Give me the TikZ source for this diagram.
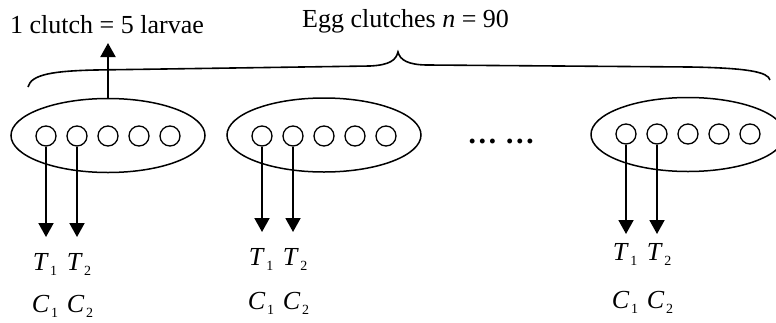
\documentclass[tikz,border=0pt]{standalone}
\usepackage{fontspec}
\setmainfont{Liberation Serif}
\usetikzlibrary{arrows.meta,shapes.geometric}
\newcommand{\lbl}[2]{\textit{#1}\kern1.5pt\raisebox{-5pt}{\fontsize{14}{14}\selectfont #2}}
\begin{document}
\begin{tikzpicture}[x=1pt,y=-1pt,
  txt/.style={font=\fontsize{26}{30}\selectfont, inner sep=0pt},
  clutch/.style={draw, ellipse, line width=1.5pt, minimum width=194pt, minimum height=74pt, inner sep=0pt},
  egg/.style={draw, circle, line width=1.3pt, minimum size=20pt, inner sep=0pt},
  arr/.style={line width=1.9pt, -{Triangle[length=14pt,width=15pt]}},
  brace/.style={line width=1.6pt}]
\clip (0,0) rectangle (776,322);
\useasboundingbox (0,0) rectangle (776,322);

% headings
\node[txt, anchor=base west] (lab) at (10,33) {1 clutch = 5 larvae};
\node[txt, anchor=base west] (tot) at (302,27) {Egg clutches \textit{n} = 90};

% the egg clutches, each with five larvae, two of them sampled
\foreach \cx/\ey/\cy/\tip/\tb/\cb/\g in {108/135.5/136/237/270/312/g1,
                                         324/135/136/232/265/309/g2,
                                         688/134.5/134/234/260/308/g3}{
  \node[clutch] (\g) at (\cx,\ey) {};
  \foreach \k/\dx in {1/-62,2/-31,3/0,4/31,5/62}
    \node[egg] (\g e\k) at (\cx+\dx,\cy) {};
  \coordinate (\g a1) at (\cx-62,\tip);
  \coordinate (\g a2) at (\cx-31,\tip);
  \draw[arr] (\g e1.south) -- (\g a1);
  \draw[arr] (\g e2.south) -- (\g a2);
  \node[txt, anchor=base] (\g t1) at (\cx-63,\tb) {\lbl{T}{1}};
  \node[txt, anchor=base] (\g t2) at (\cx-29,\tb) {\lbl{T}{2}};
  \node[txt, anchor=base] (\g c1) at (\cx-63,\cb) {\lbl{C}{1}};
  \node[txt, anchor=base] (\g c2) at (\cx-28,\cb) {\lbl{C}{2}};
}

\node[inner sep=0pt, anchor=base, font=\fontsize{30}{32}\selectfont\bfseries] (dots) at (501,143) {\char"2026\ \char"2026};

% brace over all clutches
\draw[brace] (28,87) .. controls (31,74) and (55,71) .. (95,70)
  -- (370,66) .. controls (390,65) and (396,60) .. (398,52)
  .. controls (400,60) and (408,65) .. (428,65)
  -- (690,67) .. controls (748,68) and (768,72) .. (770,80);

% one clutch pointing to its definition
\coordinate (uptip) at (108,43);
\draw[arr] (g1.north) -- (uptip);
\end{tikzpicture}
\end{document}
